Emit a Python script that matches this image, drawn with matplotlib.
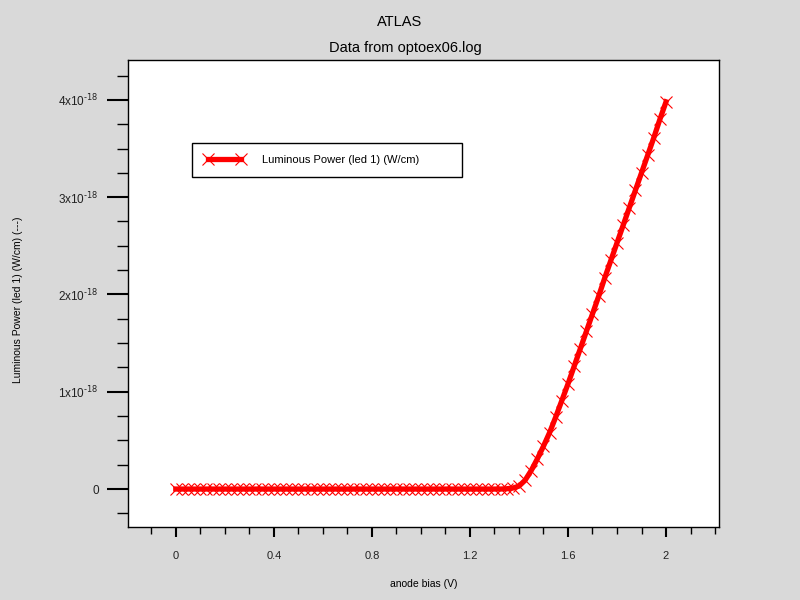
import matplotlib
matplotlib.use("Agg")
import matplotlib.pyplot as plt
from matplotlib.ticker import FixedLocator, FuncFormatter

plt.rcParams["font.family"] = ["Liberation Sans", "DejaVu Sans"]
plt.rcParams["mathtext.default"] = "regular"

# anode bias sweep (V)
bias = [
    0.0, 0.025, 0.05, 0.075, 0.1, 0.125, 0.15, 0.175, 0.2, 0.225,
    0.25, 0.275, 0.3, 0.325, 0.35, 0.375, 0.4, 0.425, 0.45, 0.475,
    0.5, 0.525, 0.55, 0.575, 0.6, 0.625, 0.65, 0.675, 0.7, 0.725,
    0.75, 0.775, 0.8, 0.825, 0.85, 0.875, 0.9, 0.925, 0.95, 0.975,
    1.0, 1.025, 1.05, 1.075, 1.1, 1.125, 1.15, 1.175, 1.2, 1.225,
    1.25, 1.275, 1.3, 1.325, 1.35, 1.375, 1.4, 1.425, 1.45, 1.475,
    1.5, 1.525, 1.55, 1.575, 1.6, 1.625, 1.65, 1.675, 1.7, 1.725,
    1.75, 1.775, 1.8, 1.825, 1.85, 1.875, 1.9, 1.925, 1.95, 1.975,
    2.0,
]
# luminous power in units of 1e-18 W/cm
power = [
    0.0, 0.0, 0.0, 0.0, 0.0, 0.0, 0.0, 0.0, 0.0, 0.0,
    0.0, 0.0, 0.0, 0.0, 0.0, 0.0, 0.0, 0.0, 0.0, 0.0,
    0.0, 0.0, 0.0, 0.0, 0.0, 0.0, 0.0, 0.0, 0.0, 0.0,
    0.0, 0.0, 0.0, 0.0, 0.0, 0.0, 0.0, 0.0, 0.0, 0.0,
    0.0, 0.0, 0.0, 0.0, 0.0, 0.0, 0.0, 0.0, 0.0, 0.0,
    0.0, 0.0, 0.0, 0.0, 0.003, 0.01, 0.03, 0.09, 0.19, 0.31,
    0.44, 0.58, 0.74, 0.91, 1.08, 1.26, 1.44, 1.62, 1.80, 1.98,
    2.17, 2.35, 2.53, 2.71, 2.89, 3.07, 3.25, 3.43, 3.61, 3.80,
    3.98,
]
scale = 1e-18

x_major = [0, 0.4, 0.8, 1.2, 1.6, 2.0]
x_minor = [-0.1, 0.1, 0.2, 0.3, 0.5, 0.6, 0.7, 0.9, 1.0, 1.1,
           1.3, 1.4, 1.5, 1.7, 1.8, 1.9, 2.1, 2.2]
y_major = [0, 1, 2, 3, 4]
y_minor = [-0.25, 0.25, 0.5, 0.75, 1.25, 1.5, 1.75, 2.25, 2.5, 2.75,
           3.25, 3.5, 3.75, 4.25]

fig = plt.figure(figsize=(8, 6), dpi=100, facecolor="#d9d9d9")
ax = fig.add_axes([0.16, 0.1217, 0.739, 0.7783])
ax.set_facecolor("white")

ax.plot(bias, [p * scale for p in power], color="red", lw=3.8,
        marker="x", ms=9, mew=0.8, label="Luminous Power (led 1) (W/cm)")

ax.set_xlim(-0.195, 2.217)
ax.set_ylim(-0.39 * scale, 4.41 * scale)

ax.xaxis.set_major_locator(FixedLocator(x_major))
ax.xaxis.set_minor_locator(FixedLocator(x_minor))
ax.yaxis.set_major_locator(FixedLocator([v * scale for v in y_major]))
ax.yaxis.set_minor_locator(FixedLocator([v * scale for v in y_minor]))


def fmt_y(v, pos):
    n = int(round(v / scale))
    if n == 0:
        return "0"
    return r"$%dx10^{\text{-18}}$" % n


ax.xaxis.set_major_formatter(FuncFormatter(lambda v, p: "%g" % v))
ax.yaxis.set_major_formatter(FuncFormatter(fmt_y))

ax.tick_params(axis="y", which="major", length=15, width=1.5, pad=6,
               labelsize=8.5, colors="black")
ax.tick_params(axis="y", which="minor", length=8, width=1.0)
ax.tick_params(axis="x", which="major", length=7.5, width=1.5, pad=9.5,
               labelsize=8)
ax.tick_params(axis="x", which="minor", length=5, width=1.0)
for lbl in ax.get_xticklabels() + ax.get_yticklabels():
    lbl.set_color("#222222")

for s in ax.spines.values():
    s.set_linewidth(1.0)
    s.set_color("black")

ax.set_xlabel("anode bias (V)", fontsize=7.5, labelpad=13)
fig.text(0.022, 0.5, "Luminous Power (led 1) (W/cm) (---)", fontsize=7.5,
         rotation=90, ha="center", va="center")

fig.text(0.5, 0.963, "ATLAS", fontsize=10.5, ha="center", va="center")
fig.text(0.507, 0.92, "Data from optoex06.log", fontsize=10.5,
         ha="center", va="center")

leg = ax.legend(loc="upper left",
                bbox_to_anchor=(192 / 800, 1 - 178 / 600, 270 / 800, 35 / 600),
                bbox_transform=fig.transFigure, mode="expand", borderaxespad=0,
                fancybox=False, framealpha=1, edgecolor="black", fontsize=8,
                numpoints=2, handlelength=3.6, handletextpad=1.6,
                borderpad=1.1)
leg.get_frame().set_linewidth(1.0)

fig.savefig("out.png", dpi=100, facecolor=fig.get_facecolor())
